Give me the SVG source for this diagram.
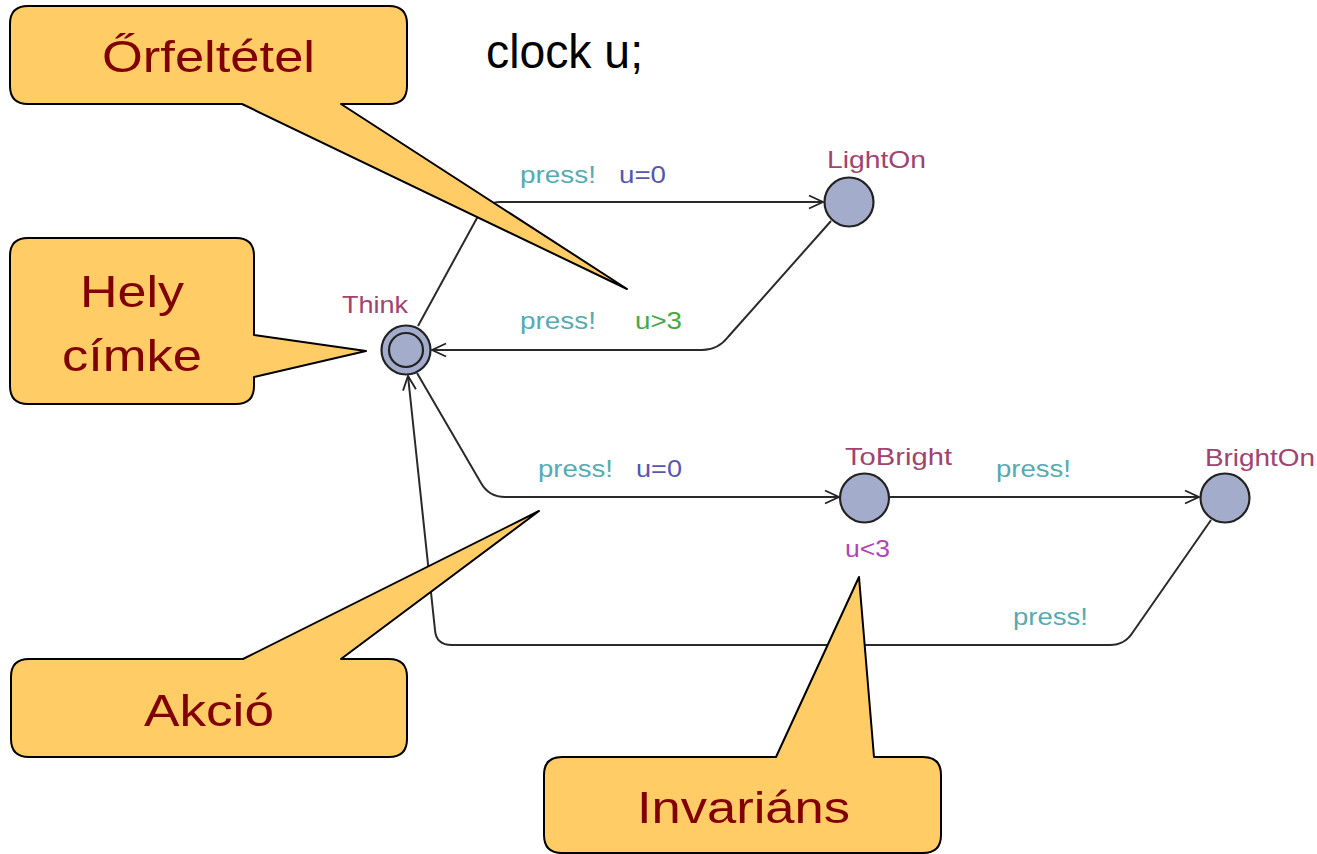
<svg xmlns="http://www.w3.org/2000/svg" width="1317" height="854" viewBox="0 0 1317 854">
<defs>
<marker id="arr" markerUnits="userSpaceOnUse" markerWidth="18" markerHeight="16" refX="15" refY="8" orient="auto">
<path d="M1,1.5 L15,8 L1,14.5" fill="none" stroke="#222" stroke-width="1.8"/>
</marker>
<style>
.edge{fill:none;stroke:#2a2a2a;stroke-width:2}
.loc{fill:#a4accc;stroke:#222;stroke-width:2.2}
.name{font-family:"Liberation Sans",Arial,sans-serif;font-size:24px;fill:#a0436f}
.sync{font-family:"Liberation Sans",Arial,sans-serif;font-size:24px;fill:#57aab2}
.upd{font-family:"Liberation Sans",Arial,sans-serif;font-size:24px;fill:#5656b0}
.grd{font-family:"Liberation Sans",Arial,sans-serif;font-size:24px;fill:#45a845}
.inv{font-family:"Liberation Sans",Arial,sans-serif;font-size:24px;fill:#b045b8}
.call{fill:#ffcc66;stroke:#000;stroke-width:2;stroke-linejoin:round}
.ctext{font-family:"Liberation Sans",Arial,sans-serif;font-size:45px;fill:#800000}
</style>
</defs>
<rect width="1317" height="854" fill="#fff"/>
<text x="486" y="68" font-family="Liberation Sans, Arial, sans-serif" font-size="48" fill="#000" textLength="157" lengthAdjust="spacingAndGlyphs">clock u;</text>

<g id="connectors">
<path class="edge" d="M418,326 L477,218 Q486,202 500,202 L823,202" marker-end="url(#arr)"/>
<path class="edge" d="M831,221 L728,337 Q718,350 702,350 L432,350" marker-end="url(#arr)"/>
<path class="edge" d="M417,373 L481,483 Q489,497 505,497 L839,497" marker-end="url(#arr)"/>
<path class="edge" d="M889,497 L1199,497" marker-end="url(#arr)"/>
<path class="edge" d="M1211,520 L1133,632 Q1125,645 1110,645 L452,645 Q436,645 435,630 L408,376" marker-end="url(#arr)"/>
<text class="sync" x="520" y="183" textLength="76" lengthAdjust="spacingAndGlyphs">press!</text>
<text class="upd" x="619" y="183" textLength="47" lengthAdjust="spacingAndGlyphs">u=0</text>
<text class="sync" x="520" y="329" textLength="76" lengthAdjust="spacingAndGlyphs">press!</text>
<text class="grd" x="635" y="329" textLength="47" lengthAdjust="spacingAndGlyphs">u&gt;3</text>
<text class="sync" x="538" y="477" textLength="75" lengthAdjust="spacingAndGlyphs">press!</text>
<text class="upd" x="636" y="477" textLength="46" lengthAdjust="spacingAndGlyphs">u=0</text>
<text class="sync" x="996" y="477" textLength="75" lengthAdjust="spacingAndGlyphs">press!</text>
<text class="sync" x="1013" y="625" textLength="75" lengthAdjust="spacingAndGlyphs">press!</text>
</g>

<g id="Think">
<circle class="loc" cx="406" cy="350" r="24.5"/>
<circle class="loc" cx="406" cy="350" r="17"/>
<text class="name" x="342" y="313" textLength="66" lengthAdjust="spacingAndGlyphs">Think</text>
</g>
<g id="LightOn">
<circle class="loc" cx="849" cy="202" r="24.5"/>
<text class="name" x="827" y="168" textLength="99" lengthAdjust="spacingAndGlyphs">LightOn</text>
</g>
<g id="ToBright">
<circle class="loc" cx="864.5" cy="498" r="24.5"/>
<text class="name" x="845" y="465" textLength="107" lengthAdjust="spacingAndGlyphs">ToBright</text>
<text class="inv" x="845" y="557" textLength="45" lengthAdjust="spacingAndGlyphs">u&lt;3</text>
</g>
<g id="BrightOn">
<circle class="loc" cx="1225" cy="498" r="24.5"/>
<text class="name" x="1205" y="466" textLength="110" lengthAdjust="spacingAndGlyphs">BrightOn</text>
</g>

<g id="callout-orfeltetel">
<path class="call" d="M28,6 H389 Q407,6 407,24 V86 Q407,104 389,104 H341 L627,289 L242,104 H28 Q10,104 10,86 V24 Q10,6 28,6 Z"/>
<text class="ctext" x="102" y="72" textLength="213" lengthAdjust="spacingAndGlyphs">Őrfeltétel</text>
</g>
<g id="callout-hely">
<path class="call" d="M28,238 H236 Q254,238 254,256 V335 L366,351 L254,377 V386 Q254,404 236,404 H28 Q10,404 10,386 V256 Q10,238 28,238 Z"/>
<text class="ctext" x="80" y="307" textLength="104" lengthAdjust="spacingAndGlyphs">Hely</text>
<text class="ctext" x="62" y="371" textLength="140" lengthAdjust="spacingAndGlyphs">címke</text>
</g>
<g id="callout-akcio">
<path class="call" d="M29,659 H243 L539,511 L341,659 H389 Q407,659 407,677 V739 Q407,757 389,757 H29 Q11,757 11,739 V677 Q11,659 29,659 Z"/>
<text class="ctext" x="144" y="726" textLength="130" lengthAdjust="spacingAndGlyphs">Akció</text>
</g>
<g id="callout-invarians">
<path class="call" d="M562,757 H776 L859,577 L874,757 H923 Q941,757 941,775 V835 Q941,853 923,853 H562 Q544,853 544,835 V775 Q544,757 562,757 Z"/>
<text class="ctext" x="637" y="823" textLength="213" lengthAdjust="spacingAndGlyphs">Invariáns</text>
</g>
</svg>
